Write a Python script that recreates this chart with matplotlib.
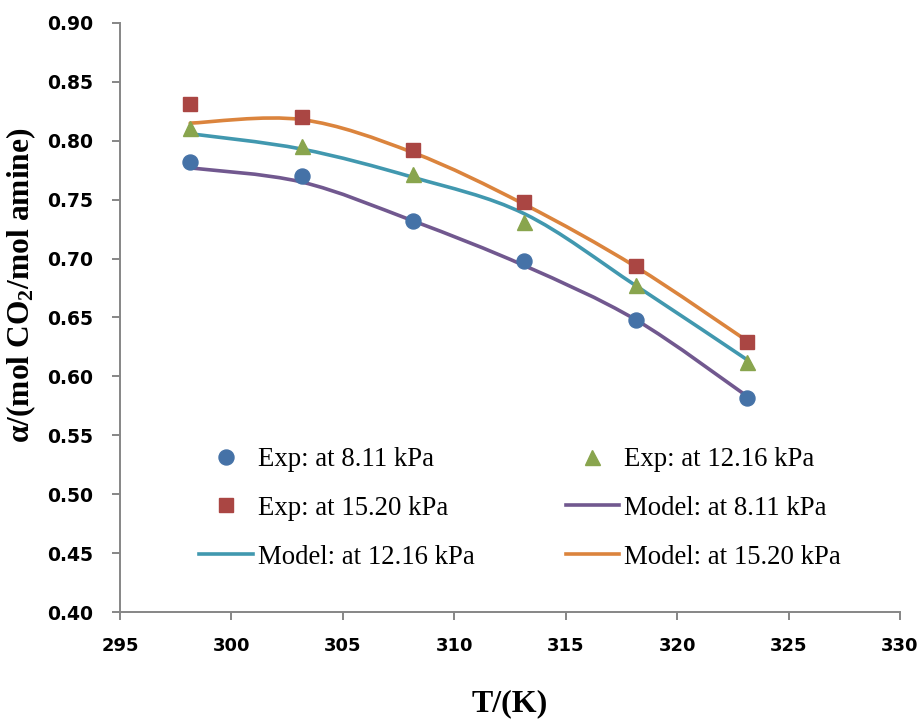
import matplotlib
matplotlib.use("Agg")
import matplotlib.pyplot as plt
from matplotlib.path import Path
from matplotlib.patches import PathPatch
from matplotlib.lines import Line2D

T = [298.15, 303.15, 308.15, 313.15, 318.15, 323.15]
exp_811 = [0.782, 0.770, 0.732, 0.698, 0.648, 0.582]
exp_1216 = [0.811, 0.796, 0.772, 0.731, 0.678, 0.612]
exp_1520 = [0.831, 0.820, 0.792, 0.748, 0.694, 0.629]
model_811 = [0.777, 0.765, 0.732, 0.694, 0.648, 0.583]
model_1216 = [0.806, 0.793, 0.769, 0.738, 0.677, 0.614]
model_1520 = [0.815, 0.818, 0.790, 0.746, 0.693, 0.630]
xticks = [295, 300, 305, 310, 315, 320, 325, 330]
yticks = [0.40, 0.45, 0.50, 0.55, 0.60, 0.65, 0.70, 0.75, 0.80, 0.85, 0.90]

plt.rcParams['mathtext.fontset'] = 'custom'
plt.rcParams['mathtext.rm'] = 'Liberation Serif:bold'
plt.rcParams['mathtext.it'] = 'Liberation Serif:italic:bold'
plt.rcParams['mathtext.bf'] = 'Liberation Serif:bold'

W, H = 922, 719
fig = plt.figure(figsize=(W/100, H/100), dpi=100)
ax = fig.add_axes([120/W, 1-612/H, (900-120)/W, (612-23)/H])

def smooth_path(xs, ys):
    pts = list(zip(xs, ys))
    n = len(pts)
    verts = [pts[0]]
    codes = [Path.MOVETO]
    for i in range(n-1):
        p0 = pts[i-1] if i > 0 else pts[i]
        p1 = pts[i]
        p2 = pts[i+1]
        p3 = pts[i+2] if i+2 < n else pts[i+1]
        c1 = (p1[0] + (p2[0]-p0[0])/6, p1[1] + (p2[1]-p0[1])/6)
        c2 = (p2[0] - (p3[0]-p1[0])/6, p2[1] - (p3[1]-p1[1])/6)
        verts += [c1, c2, p2]
        codes += [Path.CURVE4]*3
    return Path(verts, codes)

c_purple, c_teal, c_orange = '#71588F', '#4198AF', '#DB843D'
c_blue, c_green, c_red = '#4572A7', '#89A54E', '#AA4643'
lw = 2.6
for ys, c in [(model_811, c_purple), (model_1216, c_teal), (model_1520, c_orange)]:
    ax.add_patch(PathPatch(smooth_path(T, ys), fill=False, edgecolor=c, lw=lw,
                           capstyle='round', joinstyle='round', zorder=2))

ms = 10.8
ax.plot(T, exp_811, 'o', color=c_blue, ms=ms, zorder=3)
ax.plot(T, exp_1216, '^', color=c_green, ms=ms, zorder=3)
ax.plot(T, exp_1520, 's', color=c_red, ms=ms-0.6, zorder=3)

ax.set_xlim(295, 330)
ax.set_ylim(0.40, 0.90)
ax.set_xticks(xticks)
ax.set_yticks(yticks)
ax.set_yticklabels([f"{v:.2f}" for v in yticks], fontfamily='DejaVu Sans', fontweight='bold', fontsize=13.5)
ax.set_xticklabels([str(v) for v in xticks], fontfamily='DejaVu Sans', fontweight='bold', fontsize=13)

for s in ['top', 'right']:
    ax.spines[s].set_visible(False)
for s in ['left', 'bottom']:
    ax.spines[s].set_color('#868686')
    ax.spines[s].set_linewidth(1.4)
ax.tick_params(axis='both', direction='out', length=5.8, width=1.4, color='#868686')
ax.tick_params(axis='x', pad=12.5)
ax.tick_params(axis='y', pad=13.5)

ax.set_xlabel('T/(K)', fontfamily='Liberation Serif', fontweight='bold', fontsize=23)
ax.xaxis.label.set_va('baseline')
ax.xaxis.set_label_coords(0.5, -(711-612)/(612-23))
ax.set_ylabel('α/(mol CO$_2$/mol amine)', fontfamily='Liberation Serif', fontweight='bold', fontsize=22.7)
ax.yaxis.set_label_coords(-(120-38)/(900-120), (612-285)/(612-23))

h_e811 = Line2D([], [], ls='none', marker='o', color=c_blue, ms=ms)
h_e1216 = Line2D([], [], ls='none', marker='^', color=c_green, ms=ms)
h_e1520 = Line2D([], [], ls='none', marker='s', color=c_red, ms=ms-0.6)
h_m811 = Line2D([], [], color=c_purple, lw=lw)
h_m1216 = Line2D([], [], color=c_teal, lw=lw)
h_m1520 = Line2D([], [], color=c_orange, lw=lw)
handles = [h_e811, h_e1520, h_m1216, h_e1216, h_m811, h_m1520]
labels = ['Exp: at 8.11 kPa', 'Exp: at 15.20 kPa', 'Model: at 12.16 kPa',
          'Exp: at 12.16 kPa', 'Model: at 8.11 kPa', 'Model: at 15.20 kPa']
ax.legend(handles, labels, ncol=2, loc='upper left', bbox_to_anchor=(199/W, 1-447/H),
          bbox_transform=fig.transFigure, frameon=False, borderpad=0, borderaxespad=0,
          prop={'family': 'Liberation Serif', 'size': 19.3},
          handlelength=2.0, handletextpad=0.19, columnspacing=3.4, labelspacing=0.89)

fig.savefig('out.png', dpi=100)
